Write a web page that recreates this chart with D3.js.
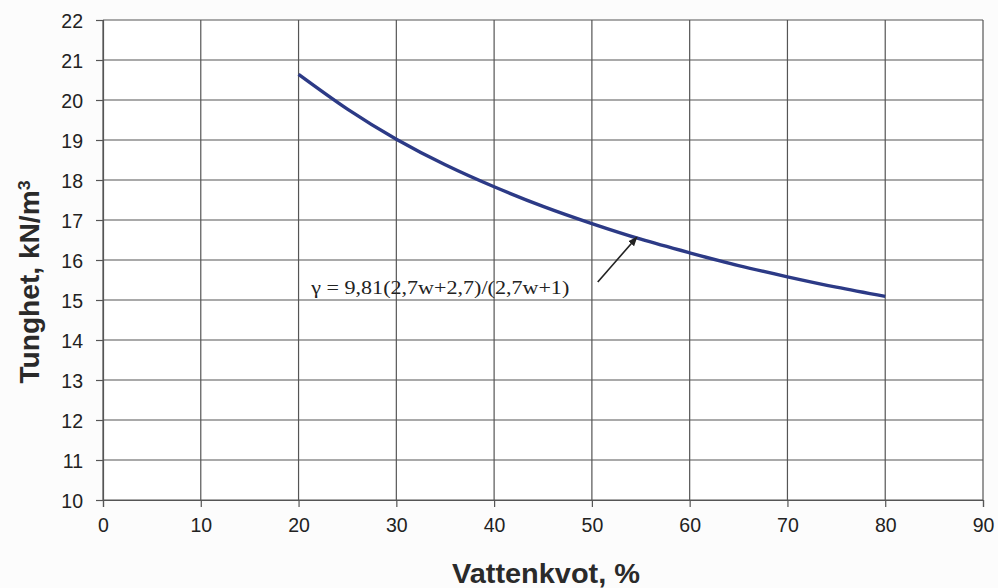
<!DOCTYPE html>
<html>
<head>
<meta charset="utf-8">
<script src="https://cdn.jsdelivr.net/npm/d3@7"></script>
<style>
  html, body { margin: 0; padding: 0; background: #fcfcfc; }
  svg { display: block; }
</style>
</head>
<body>
<svg id="chart" width="998" height="588"></svg>
<script>
// Water content (%) and unit weight (kN/m3) along the curve
const waterContent = [20, 25, 30, 35, 40, 45, 50, 55, 60, 65, 70, 75, 80];
const unitWeight   = [20.64, 19.77, 19.02, 18.38, 17.83, 17.34, 16.91, 16.52, 16.18, 15.86, 15.58, 15.32, 15.09];

const xTicks = [0, 10, 20, 30, 40, 50, 60, 70, 80, 90];
const yTicks = [10, 11, 12, 13, 14, 15, 16, 17, 18, 19, 20, 21, 22];

const formulaText = "\u03B3 = 9,81(2,7w+2,7)/(2,7w+1)";
// Formula label anchor and arrow (data units)
const labelPos = [21.3, 15.15];
const arrowFrom = [50.6, 15.45];
const arrowTo = [54.6, 16.57];

const svg = d3.select("#chart");
const margin = { left: 103, right: 15, top: 20, bottom: 88 };
const W = 998, H = 588;

const x = d3.scaleLinear().domain([0, 90]).range([margin.left, W - margin.right]);
const y = d3.scaleLinear().domain([10, 22]).range([H - margin.bottom, margin.top]);

const gridColor = "#555";

// Plot area background
svg.append("rect")
  .attr("x", x(0)).attr("y", y(22))
  .attr("width", x(90) - x(0)).attr("height", y(10) - y(22))
  .attr("fill", "#ffffff");

// Grid
svg.append("g").selectAll("line.h").data(yTicks).join("line")
  .attr("x1", x(0)).attr("x2", x(90))
  .attr("y1", d => y(d)).attr("y2", d => y(d))
  .attr("stroke", gridColor).attr("stroke-width", 1.2);
svg.append("g").selectAll("line.v").data(xTicks).join("line")
  .attr("x1", d => x(d)).attr("x2", d => x(d))
  .attr("y1", y(10)).attr("y2", y(22))
  .attr("stroke", gridColor).attr("stroke-width", 1.2);

// Axes
const xAxis = svg.append("g")
  .attr("transform", `translate(0,${y(10)})`)
  .call(d3.axisBottom(x).tickValues(xTicks).tickSize(7).tickPadding(11));
const yAxis = svg.append("g")
  .attr("transform", `translate(${x(0)},0)`)
  .call(d3.axisLeft(y).tickValues(yTicks).tickSize(7).tickPadding(13));

[xAxis, yAxis].forEach(g => {
  g.select(".domain").attr("stroke", gridColor).attr("stroke-width", 1.2);
  g.selectAll(".tick line").attr("stroke", gridColor).attr("stroke-width", 1.2);
  g.selectAll(".tick text")
    .attr("fill", "#222")
    .style("font-family", "Liberation Sans, Arial, sans-serif")
    .style("font-size", "19.5px");
});
yAxis.selectAll(".tick text").attr("dy", "0.36em");

// Curve
const line = d3.line()
  .x((d, i) => x(waterContent[i]))
  .y(d => y(d))
  .curve(d3.curveNatural);
svg.append("path")
  .datum(unitWeight)
  .attr("d", line)
  .attr("fill", "none")
  .attr("stroke", "#2c3a86")
  .attr("stroke-width", 3.4)
  .attr("stroke-linecap", "butt");

// Formula label
svg.append("text")
  .attr("x", x(labelPos[0])).attr("y", y(labelPos[1]))
  .attr("fill", "#222")
  .attr("textLength", 258)
  .attr("lengthAdjust", "spacingAndGlyphs")
  .style("font-family", "Liberation Serif, Times New Roman, serif")
  .style("font-size", "19px")
  .text(formulaText);

// Arrow pointing at the curve
svg.append("defs").append("marker")
  .attr("id", "arrowhead")
  .attr("viewBox", "0 0 10 10")
  .attr("refX", 9).attr("refY", 5)
  .attr("markerWidth", 6).attr("markerHeight", 6)
  .attr("orient", "auto")
  .append("path").attr("d", "M0,1 L10,5 L0,9 Z").attr("fill", "#222");
svg.append("line")
  .attr("x1", x(arrowFrom[0])).attr("y1", y(arrowFrom[1]))
  .attr("x2", x(arrowTo[0])).attr("y2", y(arrowTo[1]))
  .attr("stroke", "#222").attr("stroke-width", 1.6)
  .attr("marker-end", "url(#arrowhead)");

// Axis titles
svg.append("text")
  .attr("x", 546).attr("y", 583)
  .attr("text-anchor", "middle")
  .attr("fill", "#2a2a2a")
  .attr("textLength", 188)
  .attr("lengthAdjust", "spacingAndGlyphs")
  .style("font-family", "Liberation Sans, Arial, sans-serif")
  .style("font-size", "27px").style("font-weight", "bold")
  .text("Vattenkvot, %");

const yTitle = svg.append("text")
  .attr("transform", `translate(39,${(y(10) + y(22)) / 2 + 22}) rotate(-90)`)
  .attr("text-anchor", "middle")
  .attr("fill", "#2a2a2a")
  .attr("textLength", 203)
  .attr("lengthAdjust", "spacingAndGlyphs")
  .style("font-family", "Liberation Sans, Arial, sans-serif")
  .style("font-size", "27px").style("font-weight", "bold");
yTitle.append("tspan").text("Tunghet, kN/m");
yTitle.append("tspan").attr("dy", "-0.55em").style("font-size", "17px").text("3");
</script>
</body>
</html>
